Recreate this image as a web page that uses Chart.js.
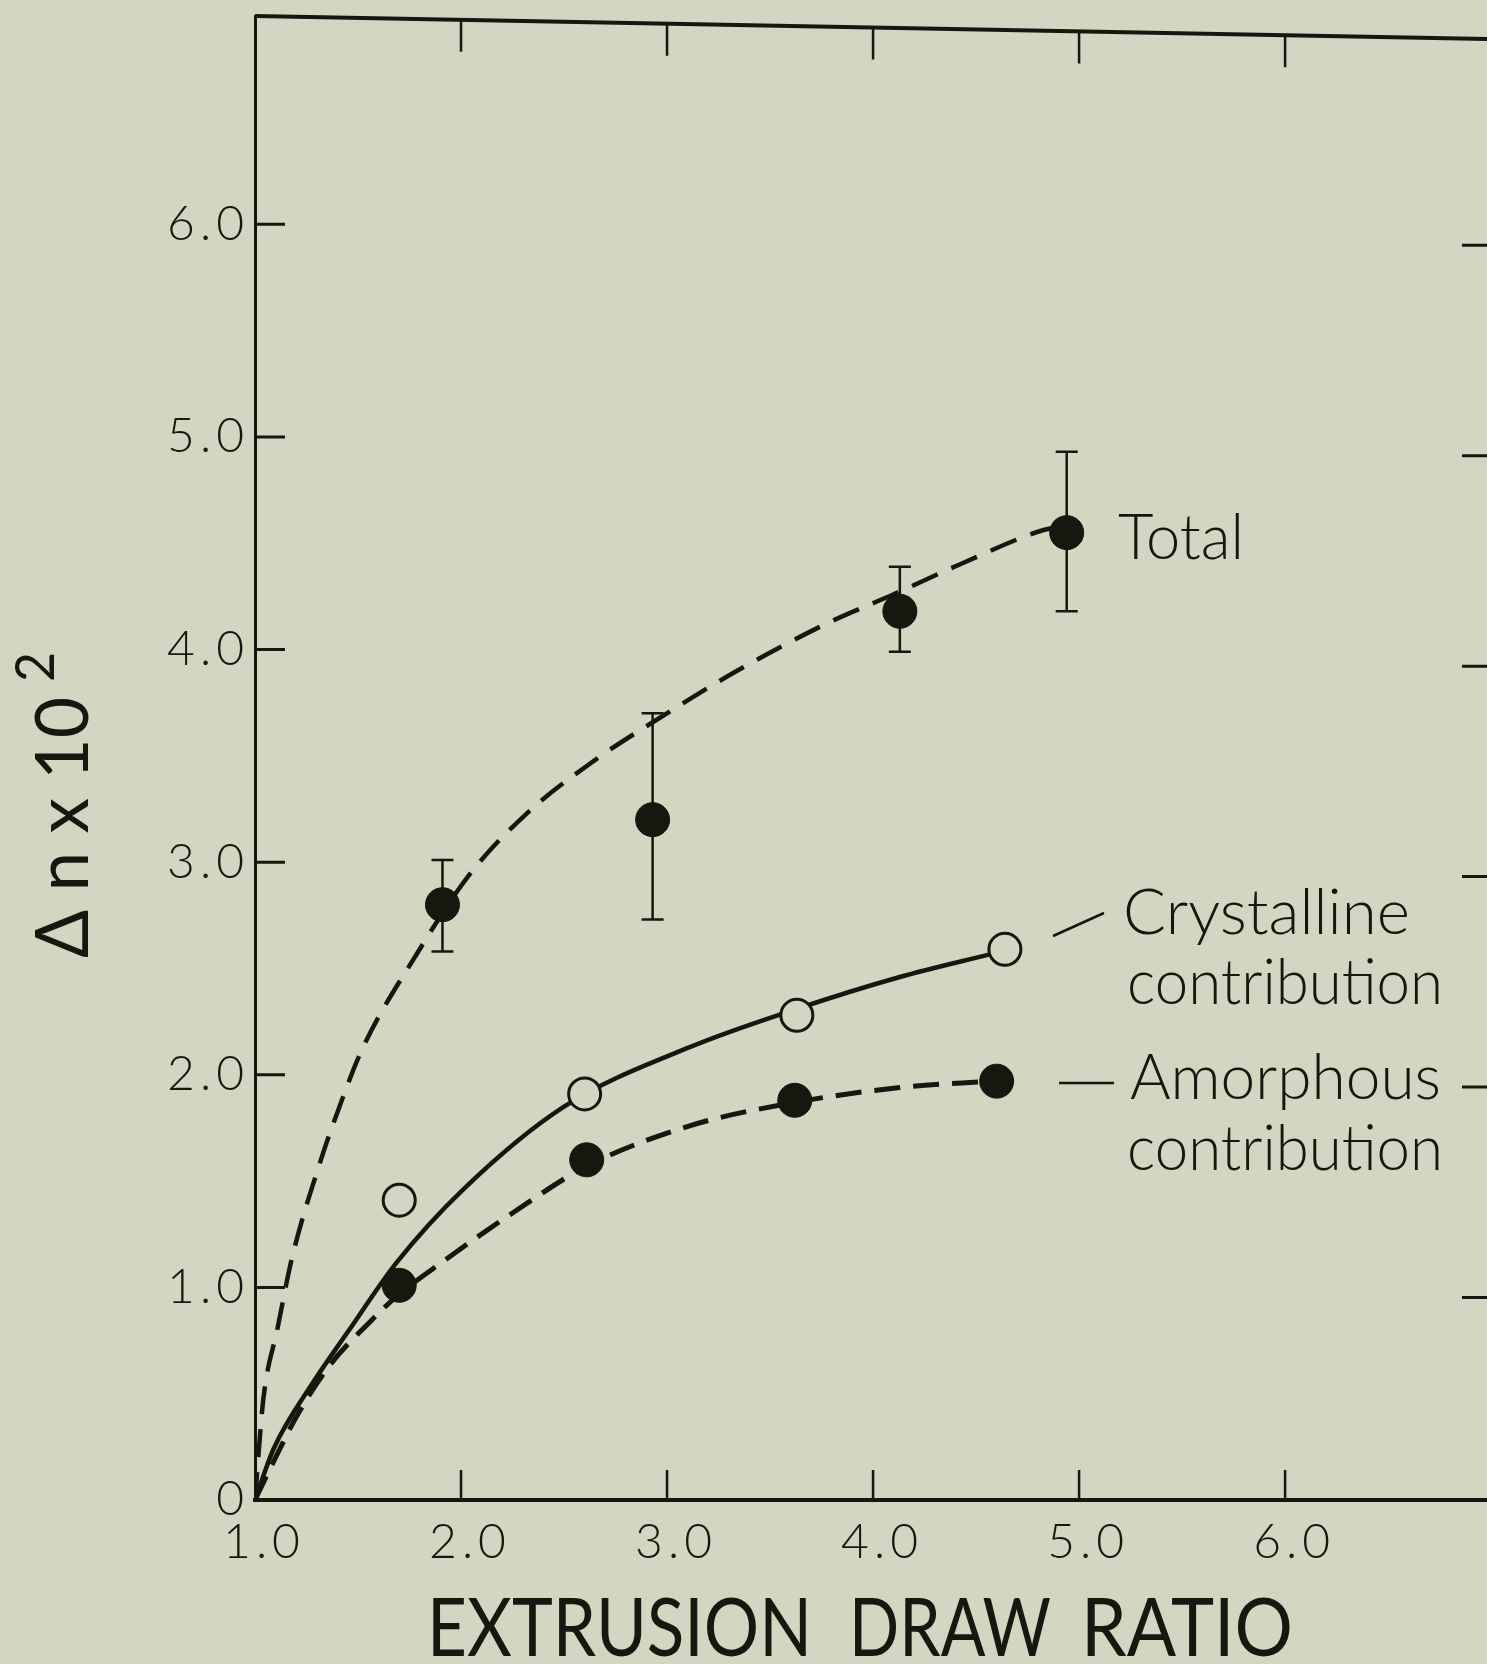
<!DOCTYPE html>
<html>
<head>
<meta charset="utf-8">
<script src="https://cdn.jsdelivr.net/npm/chart.js@4.4.1/dist/chart.umd.min.js"></script>
<style>
html, body { margin: 0; padding: 0; background: #d3d6c1; overflow: hidden; }
canvas { display: block; }
</style>
</head>
<body>
<canvas id="birefChart" width="1487" height="1664"></canvas>
<script>
// tick values and their labels
const xTicks = [1, 2, 3, 4, 5, 6];
const xTickLabels = ['1.0', '2.0', '3.0', '4.0', '5.0', '6.0'];
const yTicks = [0, 1, 2, 3, 4, 5, 6];
const yTickLabels = ['0', '1.0', '2.0', '3.0', '4.0', '5.0', '6.0'];

// measured points
const totalX = [1.91, 2.93, 4.13, 4.94];
const totalY = [2.80, 3.20, 4.18, 4.55];
const totalHigh = [3.01, 3.70, 4.39, 4.93];
const totalLow = [2.58, 2.73, 3.99, 4.18];

const crystX = [1.70, 2.60, 3.63, 4.64];
const crystY = [1.41, 1.91, 2.28, 2.59];

const amorphX = [1.70, 2.61, 3.62, 4.60];
const amorphY = [1.01, 1.60, 1.88, 1.97];

// drawn-in curves
const totalCurveX = [1.0, 1.04, 1.11, 1.18, 1.32, 1.41, 1.52, 1.78, 2.04, 2.32, 2.65, 2.95, 3.34, 3.77, 4.10, 4.42, 4.82, 4.92];
const totalCurveY = [0.0, 0.47, 0.81, 1.14, 1.60, 1.85, 2.12, 2.56, 2.94, 3.23, 3.48, 3.67, 3.90, 4.12, 4.26, 4.40, 4.56, 4.58];

const crystCurveX = [1.0, 1.09, 1.28, 1.45, 1.69, 2.01, 2.50, 3.11, 3.63, 4.13, 4.58];
const crystCurveY = [0.0, 0.24, 0.55, 0.79, 1.12, 1.46, 1.85, 2.13, 2.31, 2.46, 2.57];

const amorphCurveX = [1.0, 1.10, 1.20, 1.36, 1.56, 1.69, 1.91, 2.25, 2.61, 3.11, 3.62, 4.13, 4.58];
const amorphCurveY = [0.0, 0.20, 0.39, 0.63, 0.84, 0.96, 1.12, 1.35, 1.57, 1.76, 1.87, 1.94, 1.97];

const paper = '#d3d6c1';
const ink = '#17170f';
const face = 'Lato, "DejaVu Sans", sans-serif';

function pts(xs, ys) {
    return xs.map((x, i) => ({ x: x, y: ys[i] }));
}

// draw text squeezed/stretched to a given width
function fitText(ctx, text, left, baseline, size, width, weight) {
    ctx.save();
    ctx.font = (weight || '300') + ' ' + size + 'px ' + face;
    ctx.textAlign = 'left';
    ctx.textBaseline = 'alphabetic';
    const w = ctx.measureText(text).width;
    ctx.translate(left, baseline);
    ctx.scale(width / w, 1);
    ctx.fillText(text, 0, 0);
    ctx.restore();
}

const paperPlugin = {
    id: 'paper',
    beforeDraw(chart) {
        const ctx = chart.ctx;
        ctx.save();
        ctx.fillStyle = paper;
        ctx.fillRect(0, 0, chart.width, chart.height);
        ctx.restore();
        // wider spacing for the tick labels, which are drawn before the datasets
        ctx.letterSpacing = '5px';
    },
    beforeDatasetsDraw(chart) {
        const ctx = chart.ctx;
        ctx.letterSpacing = '0px';
        // error bars on the total points
        const xs = chart.scales.x, ys = chart.scales.y;
        ctx.save();
        ctx.strokeStyle = ink;
        ctx.lineWidth = 2.5;
        for (let i = 0; i < totalX.length; i++) {
            const px = xs.getPixelForValue(totalX[i]);
            const hi = ys.getPixelForValue(totalHigh[i]);
            const lo = ys.getPixelForValue(totalLow[i]);
            ctx.beginPath();
            ctx.moveTo(px, hi); ctx.lineTo(px, lo);
            ctx.moveTo(px - 11, hi); ctx.lineTo(px + 11, hi);
            ctx.moveTo(px - 11, lo); ctx.lineTo(px + 11, lo);
            ctx.stroke();
        }
        ctx.restore();
    },
    afterDraw(chart) {
        const ctx = chart.ctx;
        const a = chart.chartArea;
        const xs = chart.scales.x, ys = chart.scales.y;
        ctx.save();
        ctx.strokeStyle = ink;
        ctx.fillStyle = ink;

        // top frame line (the print is slightly skewed)
        const topAt = x => a.top + (x - a.left) * 23 / (a.right - a.left);
        const rightSkew = y => 8 + 15 * (a.bottom - y) / (a.bottom - a.top);
        ctx.lineWidth = 4;
        ctx.beginPath();
        ctx.moveTo(a.left, a.top);
        ctx.lineTo(a.right, topAt(a.right));
        ctx.stroke();

        // inward ticks
        ctx.lineWidth = 2.5;
        xs.ticks.forEach(t => {
            if (t.value === xTicks[0]) return;
            const px = xs.getPixelForValue(t.value);
            ctx.beginPath();
            ctx.moveTo(px, a.bottom); ctx.lineTo(px, a.bottom - 30);
            const ty = topAt(px);
            ctx.moveTo(px, ty); ctx.lineTo(px, ty + 32);
            ctx.stroke();
        });
        ctx.lineWidth = 3;
        ys.ticks.forEach(t => {
            if (t.value === yTicks[0]) return;
            const py = ys.getPixelForValue(t.value);
            const ry = py + rightSkew(py);
            ctx.beginPath();
            ctx.moveTo(a.left, py); ctx.lineTo(a.left + 30, py);
            ctx.moveTo(a.right - 25, ry); ctx.lineTo(a.right, ry);
            ctx.stroke();
        });

        // axis titles
        fitText(ctx, 'EXTRUSION', 427, 1656, 82, 385, '400');
        fitText(ctx, 'DRAW', 849, 1656, 82, 202, '400');
        fitText(ctx, 'RATIO', 1081, 1656, 82, 212, '400');

        ctx.save();
        ctx.translate(88, 958);
        ctx.rotate(-Math.PI / 2);
        fitText(ctx, '\u0394 n x 10', 0, 0, 74, 261, '400');
        fitText(ctx, '2', 276, -34, 54, 30, '400');
        ctx.restore();

        // curve labels
        fitText(ctx, 'Total', 1118, 559, 64, 126);
        fitText(ctx, 'Crystalline', 1123, 934, 64, 287);
        fitText(ctx, 'contribution', 1127, 1004, 64, 316);
        fitText(ctx, 'Amorphous', 1130, 1099, 64, 311);
        fitText(ctx, 'contribution', 1127, 1170, 64, 316);

        ctx.lineWidth = 2.5;
        ctx.beginPath();
        ctx.moveTo(1053, 936); ctx.lineTo(1104, 913);
        ctx.moveTo(1059, 1083); ctx.lineTo(1114, 1083);
        ctx.stroke();
        ctx.restore();
    }
};

const ctx = document.getElementById('birefChart').getContext('2d');
const birefChart = new Chart(ctx, {
    type: 'scatter',
    data: {
        datasets: [
            {
                label: 'Total',
                data: pts(totalX, totalY),
                pointRadius: 17,
                backgroundColor: ink,
                borderColor: ink,
                borderWidth: 1,
                order: 0
            },
            {
                label: 'Crystalline contribution',
                data: pts(crystX, crystY),
                pointRadius: 16,
                backgroundColor: paper,
                borderColor: ink,
                borderWidth: 3,
                order: 0
            },
            {
                label: 'Amorphous contribution',
                data: pts(amorphX, amorphY),
                pointRadius: 17,
                backgroundColor: ink,
                borderColor: ink,
                borderWidth: 1,
                order: 0
            },
            {
                label: 'Total curve',
                data: pts(totalCurveX, totalCurveY),
                showLine: true,
                pointRadius: 0,
                borderColor: ink,
                borderWidth: 4.5,
                borderDash: [28, 15],
                cubicInterpolationMode: 'monotone',
                order: 1
            },
            {
                label: 'Crystalline curve',
                data: pts(crystCurveX, crystCurveY),
                showLine: true,
                pointRadius: 0,
                borderColor: ink,
                borderWidth: 4.5,
                cubicInterpolationMode: 'monotone',
                order: 1
            },
            {
                label: 'Amorphous curve',
                data: pts(amorphCurveX, amorphCurveY),
                showLine: true,
                pointRadius: 0,
                borderColor: ink,
                borderWidth: 5,
                borderDash: [26, 13],
                cubicInterpolationMode: 'monotone',
                order: 1
            }
        ]
    },
    options: {
        responsive: false,
        animation: false,
        layout: {
            autoPadding: false,
            padding: { top: 16, right: 0, bottom: 0, left: 0 }
        },
        plugins: {
            legend: { display: false },
            tooltip: { enabled: false }
        },
        scales: {
            x: {
                type: 'linear',
                min: 1,
                max: 6.98,
                afterFit: function (scale) {
                    scale.height = 164;
                    scale.paddingLeft = 0;
                    scale.paddingRight = 0;
                },
                afterBuildTicks: function (scale) {
                    scale.ticks = xTicks.map(v => ({ value: v }));
                },
                grid: { display: false, drawTicks: false },
                border: { display: true, width: 4, color: ink },
                ticks: {
                    padding: 14,
                    labelOffset: 9,
                    maxRotation: 0,
                    autoSkip: false,
                    color: ink,
                    font: { family: face, size: 48, weight: '300' },
                    callback: function (v, i) { return xTickLabels[i]; }
                }
            },
            y: {
                type: 'linear',
                min: 0,
                max: 6.98,
                afterFit: function (scale) {
                    scale.width = 255;
                    scale.paddingTop = 0;
                    scale.paddingBottom = 0;
                },
                afterBuildTicks: function (scale) {
                    scale.ticks = yTicks.map(v => ({ value: v }));
                },
                grid: { display: false, drawTicks: false },
                border: { display: true, width: 3, color: ink },
                ticks: {
                    padding: 6,
                    autoSkip: false,
                    color: ink,
                    font: { family: face, size: 48, weight: '300' },
                    callback: function (v, i) { return yTickLabels[i]; }
                }
            }
        }
    },
    plugins: [paperPlugin]
});
</script>
</body>
</html>
